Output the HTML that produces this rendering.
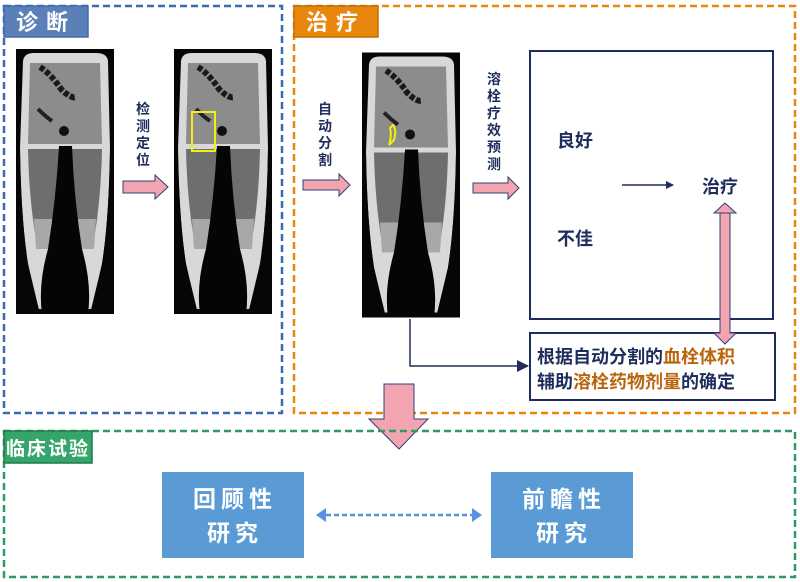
<!DOCTYPE html>
<html><head><meta charset="utf-8"><style>
html,body{margin:0;padding:0;background:#fff;}
svg{display:block;}
text{font-family:"Liberation Sans","Noto Sans CJK SC",sans-serif;font-weight:bold;}
</style></head><body>
<svg width="800" height="582" viewBox="0 0 800 582" xmlns="http://www.w3.org/2000/svg">
<defs>
<symbol id="mri" viewBox="0 0 98 265">
<rect width="98" height="265" fill="#060606"/>
<path d="M7 12 Q8 4 18 4 L80 4 Q91 4 92 12 L94 100 Q93 170 86 215 L76 260 L22 260 L12 215 Q5 170 4 100 Z" fill="#d8d8d8"/>
<path d="M14 14 L84 14 L86 95 L12 95 Z" fill="#8c8c8c"/>
<path d="M12 100 L44 100 L40 190 L20 190 Q13 150 12 100 Z" fill="#6e6e6e"/>
<path d="M86 100 L54 100 L58 190 L78 190 Q85 150 86 100 Z" fill="#6e6e6e"/>
<path d="M18 170 L38 170 L36 200 L20 200 Z" fill="#a8a8a8"/>
<path d="M60 170 L80 170 L78 200 L62 200 Z" fill="#a8a8a8"/>
<path d="M24 18 Q35 25 45 40 Q55 50 60 48" stroke="#1a1a1a" stroke-width="6" fill="none" stroke-dasharray="5 2"/>
<path d="M22 60 Q30 68 36 72" stroke="#222" stroke-width="4" fill="none"/>
<ellipse cx="48" cy="82" rx="5" ry="5" fill="#111"/>
<path d="M43 97 L56 97 Q58 150 66 200 Q76 235 72 265 L26 265 Q22 235 32 200 Q40 150 43 97 Z" fill="#050505"/>
<path d="M0 265 L0 0 L4 0 L4 100 Q5 170 12 215 L24 265 Z" fill="#060606"/>
<path d="M98 265 L98 0 L94 0 L94 100 Q93 170 86 215 L74 265 Z" fill="#060606"/>
</symbol>
<marker id="ah" markerWidth="8" markerHeight="8" refX="7" refY="4" orient="auto" markerUnits="userSpaceOnUse"><path d="M0 0 L8 4 L0 8 Z" fill="#1f2d5c"/></marker>
<marker id="ah2" markerWidth="12" markerHeight="12" refX="11" refY="6" orient="auto" markerUnits="userSpaceOnUse"><path d="M0 0 L12 6 L0 12 Z" fill="#1f2d5c"/></marker>
</defs>

<rect x="4" y="6" width="278" height="407" fill="none" stroke="#3e6bb0" stroke-width="2.5" stroke-dasharray="7 4"/>
<rect x="4" y="6" width="84" height="31" fill="#5b80b8" stroke="#3e6bb0" stroke-width="1.5"/>
<text x="46" y="30" font-size="22" fill="#fff" text-anchor="middle" letter-spacing="8">诊断</text>
<use href="#mri" x="16" y="49" width="98" height="265"/>
<use href="#mri" x="174" y="49" width="98" height="265"/>
<rect x="192" y="112" width="23" height="39" fill="none" stroke="#f2ee10" stroke-width="2"/>
<g font-size="14" fill="#1f2d5c" text-anchor="middle">
<text x="143" y="114">检</text><text x="143" y="131">测</text><text x="143" y="148">定</text><text x="143" y="165">位</text>
</g>
<path d="M123 181 L155 181 L155 175 L168 187 L155 199 L155 193 L123 193 Z" fill="#f2a5b0" stroke="#2c3f78" stroke-width="1"/>

<rect x="294" y="6" width="501" height="407" fill="none" stroke="#e8870e" stroke-width="2.5" stroke-dasharray="7 4"/>
<rect x="294" y="6" width="84" height="31" fill="#e8870e" stroke="#c66a06" stroke-width="1.5"/>
<text x="336" y="30" font-size="22" fill="#fff" text-anchor="middle" letter-spacing="8">治疗</text>
<g font-size="14" fill="#1f2d5c" text-anchor="middle">
<text x="325" y="114">自</text><text x="325" y="131">动</text><text x="325" y="148">分</text><text x="325" y="165">割</text>
</g>
<path d="M303 180 L339 180 L339 174 L350 185 L339 196 L339 190 L303 190 Z" fill="#f2a5b0" stroke="#2c3f78" stroke-width="1"/>
<use href="#mri" x="362" y="52" width="98" height="266"/>
<path d="M393 125 Q397 130 394 140 L389 145 Q392 136 390 128 Z" fill="none" stroke="#f2ee10" stroke-width="2"/>
<g font-size="14" fill="#1f2d5c" text-anchor="middle">
<text x="494" y="84">溶</text><text x="494" y="101">栓</text><text x="494" y="118">疗</text><text x="494" y="135">效</text><text x="494" y="152">预</text><text x="494" y="169">测</text>
</g>
<path d="M473 183 L508 183 L508 177 L519 188 L508 199 L508 193 L473 193 Z" fill="#f2a5b0" stroke="#2c3f78" stroke-width="1"/>
<rect x="530" y="51" width="243" height="268" fill="#fff" stroke="#1f2d5c" stroke-width="2"/>
<text x="557" y="147" font-size="18" fill="#1f2d5c">良好</text>
<text x="557" y="245" font-size="18" fill="#1f2d5c">不佳</text>
<line x1="622" y1="185" x2="673" y2="185" stroke="#1f2d5c" stroke-width="1.5" marker-end="url(#ah)"/>
<text x="702" y="193" font-size="18" fill="#1f2d5c">治疗</text>
<rect x="530" y="333" width="245" height="67" fill="#fff" stroke="#1f2d5c" stroke-width="2"/>
<path d="M720 213 L730 213 L730 333 L736 333 L725 344 L714 333 L720 333 Z M725 203 L736 213 L714 213 Z" fill="#f2a5b0" stroke="#2c3f78" stroke-width="1"/>
<polyline points="410,319 410,366 528,366" fill="none" stroke="#1f2d5c" stroke-width="1.5" marker-end="url(#ah2)"/>
<text x="537" y="363" font-size="18" fill="#1f2d5c">根据自动分割的<tspan fill="#b8650c">血栓体积</tspan></text>
<text x="537" y="388" font-size="18" fill="#1f2d5c">辅助<tspan fill="#b8650c">溶栓药物剂量</tspan>的确定</text>

<path d="M384 384 L414 384 L414 419 L428 419 L399 449 L369 419 L384 419 Z" fill="#f2a5b0" stroke="#2c3f78" stroke-width="1"/>

<rect x="4" y="431" width="791" height="146" fill="none" stroke="#2f9a62" stroke-width="2.5" stroke-dasharray="7 4"/>
<rect x="4" y="431" width="88" height="32" fill="#36a56c" stroke="#1f7a4a" stroke-width="1.5"/>
<text x="48" y="455" font-size="19" fill="#fff" text-anchor="middle" letter-spacing="2">临床试验</text>
<rect x="162" y="472" width="142" height="86" fill="#5b9bd5"/>
<rect x="491" y="472" width="142" height="86" fill="#5b9bd5"/>
<g font-size="23" fill="#fff" text-anchor="middle" letter-spacing="5">
<text x="235" y="507">回顾性</text><text x="235" y="541">研究</text>
<text x="564" y="507">前瞻性</text><text x="564" y="541">研究</text>
</g>
<line x1="326" y1="515" x2="472" y2="515" stroke="#5b8fe0" stroke-width="2.5" stroke-dasharray="5 3"/>
<path d="M316 515 L326 508 L326 522 Z M482 515 L472 508 L472 522 Z" fill="#5b8fe0"/>
</svg>
</body></html>
